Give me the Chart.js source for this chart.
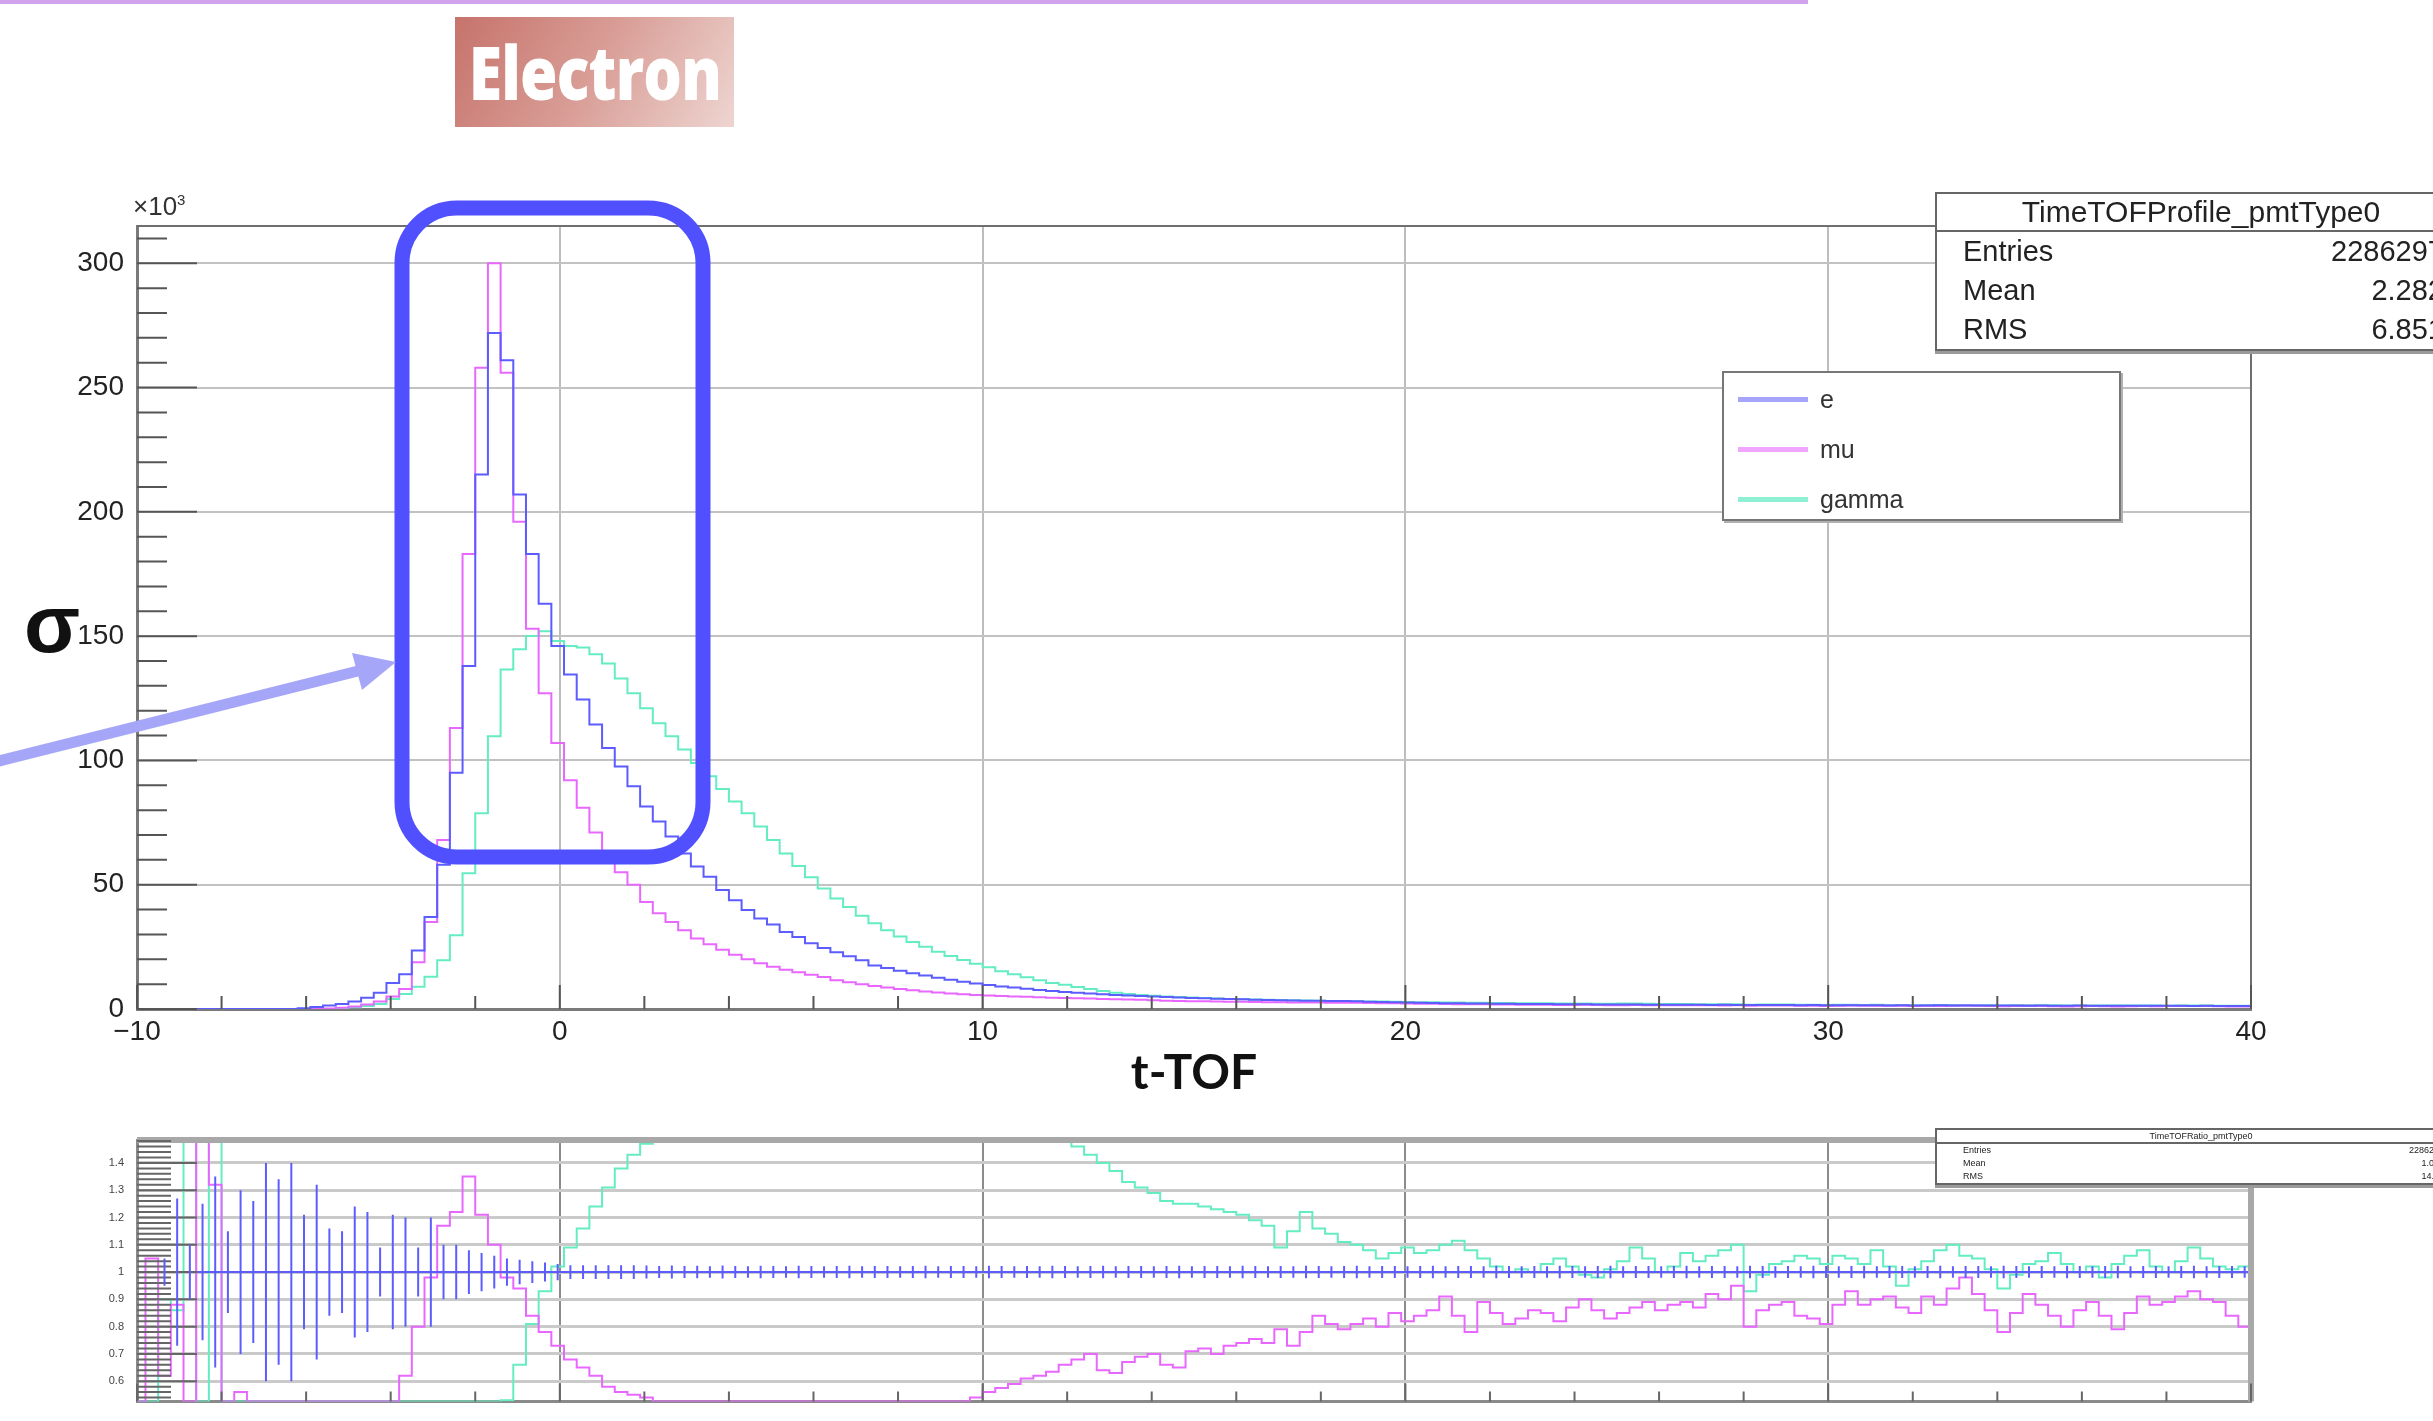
<!DOCTYPE html>
<html>
<head>
<meta charset="utf-8">
<title>TimeTOFProfile_pmtType0</title>
<script src="https://cdn.jsdelivr.net/npm/chart.js@4.4.1/dist/chart.umd.min.js"></script>
<style>
  html, body { margin: 0; padding: 0; background: #fff; }
  body { width: 2433px; height: 1421px; position: relative; overflow: hidden;
         font-family: "Liberation Sans", Arial, sans-serif; color: #222; }
  canvas { position: absolute; left: 0; }
  #mainChart { top: 0; }
  #ratioChart { top: 1110px; }
  #topRule { position: absolute; left: 0; top: 0; width: 1808px; height: 4px; background: #d2a2ec; }
  #badge { position: absolute; left: 455px; top: 17px; width: 279px; height: 110px;
           background: linear-gradient(120deg, #c6736b 0%, #d99e97 50%, #eed5d1 100%);
           display: flex; align-items: center; justify-content: center; overflow: hidden; }
  #badge span { color: #fff; font-family: "Open Sans", sans-serif; font-weight: 800; font-size: 74px;
                line-height: 1; display: inline-block; transform: scaleX(0.82); letter-spacing: -1px; }
  #sigma { position: absolute; left: 24px; top: 583px; font-size: 82px; font-weight: bold; line-height: 1; color: #111; }
  #expo { position: absolute; left: 133px; top: 191px; font-size: 26px; color: #333; }
  #expo sup { font-size: 15px; }
  .stats { position: absolute; background: #fff; border: 2px solid #666; box-shadow: 0 3px 0 #9a9a9a; }
  .stats .head { text-align: center; border-bottom: 2px solid #666; }
  .stats .row { display: flex; justify-content: space-between; }
  #stats { left: 1935px; top: 192px; width: 528px; font-size: 29px; }
  #stats .head { height: 36px; line-height: 36px; font-size: 30px; }
  #stats .row { height: 39px; line-height: 39px; padding: 0 21px 0 26px; }
  #ratioStats { left: 1935px; top: 1128px; width: 528px; font-size: 9px; }
  #ratioStats .head { height: 12px; line-height: 12px; }
  #ratioStats .row { height: 13px; line-height: 13px; padding: 0 21px 0 26px; }
  #legend { position: absolute; left: 1722px; top: 371px; width: 395px; height: 145px; background: #fff;
            border: 2px solid #777; box-shadow: 2px 2px 0 #b0b0b0; padding-top: 1px; }
  #legend .item { height: 50px; display: flex; align-items: center; font-size: 25px; color: #333; }
  #legend .swatch { width: 70px; height: 5px; margin: 0 12px 0 14px; }
  #marks { position: absolute; left: 0; top: 0; }
</style>
</head>
<body>
<canvas id="mainChart" width="2433" height="1110"></canvas>
<canvas id="ratioChart" width="2433" height="311"></canvas>

<div id="topRule"></div>
<div id="badge"><span>Electron</span></div>
<div id="sigma">σ</div>
<div id="expo">×10<sup>3</sup></div>
<div id="legend"></div>
<div id="stats" class="stats"></div>
<div id="ratioStats" class="stats"></div>

<svg id="marks" width="2433" height="1421">
  <rect x="402" y="208" width="301" height="649" rx="55" ry="55" fill="none" stroke="#5050ff" stroke-width="15"/>
  <line x1="-5" y1="762" x2="358" y2="671" stroke="#a6a6f8" stroke-width="11"/>
  <polygon points="396,662 352,653 362,690" fill="#a6a6f8"/>
</svg>

<script>
// bins of the t-TOF histograms (ns)
const binStart = -10.1;
const binWidth = 0.3;

const tofTicks = [-10, 0, 10, 20, 30, 40];
const countTicks = [0, 50, 100, 150, 200, 250, 300];
const ratioTicks = [0.6, 0.7, 0.8, 0.9, 1, 1.1, 1.2, 1.3, 1.4];

const seriesNames = ["e", "mu", "gamma"];

// entries per bin, x10^3
const eCounts = [
  0, 0, 0, 0, 0, 0, 0, 0, 0, 0,
  0, 0, 0, 0.3, 0.8, 1.4, 2, 3, 4.5, 6.5,
  10.5, 14, 23.5, 37, 58, 95, 138, 215, 272, 261,
  207, 183, 163, 146, 134.6, 124.5, 114.5, 105, 97.6, 89.6,
  81.5, 75.4, 69.4, 62.6, 57.3, 53.2, 47.9, 43.8, 39.8, 36.4,
  34, 31, 29, 26.5, 24.5, 22.8, 21.2, 19.6, 17.5, 16.5,
  15.4, 14.4, 13.5, 12.6, 11.8, 11.0, 10.3, 9.7, 9.1, 8.6,
  8.1, 7.6, 7.2, 6.8, 6.5, 6.2, 5.9, 5.6, 5.4, 5.2,
  5.0, 4.8, 4.6, 4.4, 4.3, 4.1, 4.0, 3.9, 3.7, 3.6,
  3.5, 3.4, 3.3, 3.3, 3.2, 3.2, 3.1, 2.9, 2.8, 2.7,
  2.6, 2.5, 2.4, 2.3, 2.3, 2.2, 2.2, 2.1, 2.1, 2.0,
  2.0, 2.0, 1.9, 1.9, 1.9, 1.8, 1.8, 1.8, 1.8, 1.7,
  1.7, 1.7, 1.7, 1.7, 1.6, 1.7, 1.6, 1.6, 1.6, 1.6,
  1.6, 1.5, 1.6, 1.5, 1.5, 1.5, 1.5, 1.5, 1.4, 1.5,
  1.4, 1.4, 1.5, 1.4, 1.4, 1.4, 1.4, 1.4, 1.4, 1.3,
  1.4, 1.3, 1.3, 1.4, 1.3, 1.3, 1.3, 1.3, 1.3, 1.3,
  1.3, 1.3, 1.2, 1.3, 1.2, 1.2, 1.2
];
const muCounts = [
  0, 0, 0, 0, 0, 0, 0, 0, 0, 0,
  0, 0, 0, 0, 0, 0.2, 0.5, 1.0, 1.8, 3,
  5, 8, 18.8, 35, 68, 113, 183, 258, 300, 256,
  196, 153, 127, 107, 92, 81, 71, 60, 55, 50,
  43, 38.5, 35, 31.7, 28.4, 26, 23.8, 21.8, 20, 18.4,
  17, 15.8, 14.8, 13.8, 12.9, 11.6, 10.8, 10.0, 9.3, 8.6,
  8.0, 7.5, 7.0, 6.6, 6.2, 5.9, 5.6, 5.4, 5.2, 5.0,
  4.9, 4.7, 4.55, 4.4, 4.3, 4.2, 4.0, 3.9, 3.8, 3.7,
  3.5, 3.3, 3.2, 3.1, 3.1, 3.0, 2.9, 2.9, 2.8, 2.7,
  2.7, 2.6, 2.6, 2.6, 2.5, 2.5, 2.5, 2.4, 2.3, 2.3,
  2.2, 2.1, 2.1, 2.0, 1.9, 1.9, 1.9, 1.8, 1.8, 1.7,
  1.7, 1.7, 1.6, 1.6, 1.7, 1.6, 1.5, 1.5, 1.6, 1.5,
  1.5, 1.5, 1.5, 1.5, 1.5, 1.4, 1.5, 1.3, 1.4, 1.4,
  1.4, 1.3, 1.3, 1.2, 1.3, 1.4, 1.3, 1.3, 1.3, 1.3,
  1.2, 1.3, 1.2, 1.3, 1.4, 1.3, 1.2, 1.1, 1.2, 1.3,
  1.2, 1.1, 1.0, 1.1, 1.2, 1.1, 1.0, 1.1, 1.2, 1.1,
  1.2, 1.2, 1.2, 1.2, 1.1, 1.0, 1.0
];
const gammaCounts = [
  0, 0, 0, 0, 0, 0, 0, 0, 0, 0,
  0, 0, 0, 0, 0, 0, 0.3, 0.7, 1.2, 2,
  4, 6, 9, 13, 19.6, 29.7, 54.6, 78.8, 109.7, 136.6,
  144.7, 150.1, 152, 148, 146, 145.4, 142.7, 139, 133, 127,
  121, 115, 109.7, 104.4, 99, 93.6, 88.5, 83.5, 78.8, 73.4,
  68, 62.6, 57.5, 53, 48.5, 44.5, 41, 37.5, 34.5, 31.7,
  29.2, 27, 25, 23, 21.3, 19.7, 18.2, 16.8, 15.2, 14.0,
  12.8, 11.6, 10.5, 9.8, 8.9, 8.0, 7.2, 6.5, 6.0, 5.6,
  5.3, 5.0, 4.8, 4.6, 4.4, 4.2, 4.0, 3.9, 3.8, 3.7,
  3.6, 3.5, 3.4, 3.3, 3.25, 3.2, 3.1, 3.05, 3.0, 2.9,
  2.8, 2.7, 2.7, 2.6, 2.6, 2.5, 2.5, 2.4, 2.4, 2.3,
  2.3, 2.3, 2.2, 2.2, 2.2, 2.1, 2.1, 2.2, 2.2, 2.1,
  2.0, 2.0, 2.0, 1.9, 1.9, 1.9, 1.9, 1.7, 1.8, 1.8,
  1.8, 1.7, 1.7, 1.6, 1.7, 1.7, 1.6, 1.7, 1.6, 1.5,
  1.5, 1.6, 1.6, 1.6, 1.5, 1.5, 1.5, 1.4, 1.5, 1.5,
  1.5, 1.5, 1.4, 1.4, 1.4, 1.4, 1.4, 1.4, 1.4, 1.4,
  1.3, 1.4, 1.4, 1.4, 1.3, 1.3, 1.3
];

// ratio to e, bin by bin (values past the frame sit on its edge)
const eRatio = [
  1, 1, 1, 1, 1, 1, 1, 1, 1, 1,  1, 1, 1, 1, 1, 1, 1, 1, 1, 1,
  1, 1, 1, 1, 1, 1, 1, 1, 1, 1,  1, 1, 1, 1, 1, 1, 1, 1, 1, 1,
  1, 1, 1, 1, 1, 1, 1, 1, 1, 1,  1, 1, 1, 1, 1, 1, 1, 1, 1, 1,
  1, 1, 1, 1, 1, 1, 1, 1, 1, 1,  1, 1, 1, 1, 1, 1, 1, 1, 1, 1,
  1, 1, 1, 1, 1, 1, 1, 1, 1, 1,  1, 1, 1, 1, 1, 1, 1, 1, 1, 1,
  1, 1, 1, 1, 1, 1, 1, 1, 1, 1,  1, 1, 1, 1, 1, 1, 1, 1, 1, 1,
  1, 1, 1, 1, 1, 1, 1, 1, 1, 1,  1, 1, 1, 1, 1, 1, 1, 1, 1, 1,
  1, 1, 1, 1, 1, 1, 1, 1, 1, 1,  1, 1, 1, 1, 1, 1, 1, 1, 1, 1,
  1, 1, 1, 1, 1, 1, 1
];
const eRatioErr = [
  0, 0, 0.05, 0.27, 0.1, 0.25, 0.35, 0.15, 0.3, 0.26,
  0.40, 0.34, 0.40, 0.21, 0.32, 0.16, 0.15, 0.24, 0.22, 0.09,
  0.21, 0.2, 0.09, 0.2, 0.1, 0.1, 0.08, 0.07, 0.06, 0.05,
  0.045, 0.04, 0.035, 0.03, 0.025, 0.025, 0.025, 0.025, 0.025, 0.025,
  0.024, 0.022, 0.024, 0.022, 0.023, 0.021, 0.024, 0.022, 0.021, 0.023,
  0.022, 0.021, 0.023, 0.022, 0.021, 0.022, 0.023, 0.021, 0.022, 0.022,
  0.021, 0.022, 0.023, 0.021, 0.022, 0.022, 0.021, 0.023, 0.022, 0.021,
  0.022, 0.021, 0.023, 0.022, 0.021, 0.022, 0.023, 0.021, 0.022, 0.022,
  0.021, 0.022, 0.023, 0.021, 0.022, 0.022, 0.021, 0.023, 0.022, 0.021,
  0.022, 0.021, 0.023, 0.022, 0.021, 0.022, 0.023, 0.021, 0.022, 0.022,
  0.021, 0.022, 0.023, 0.021, 0.022, 0.022, 0.021, 0.023, 0.022, 0.021,
  0.022, 0.021, 0.023, 0.022, 0.021, 0.022, 0.023, 0.021, 0.022, 0.022,
  0.021, 0.022, 0.023, 0.021, 0.022, 0.022, 0.021, 0.023, 0.022, 0.021,
  0.022, 0.021, 0.023, 0.022, 0.021, 0.022, 0.023, 0.021, 0.022, 0.022,
  0.021, 0.022, 0.023, 0.021, 0.022, 0.022, 0.021, 0.023, 0.022, 0.021,
  0.022, 0.021, 0.023, 0.022, 0.021, 0.022, 0.023, 0.021, 0.022, 0.022,
  0.021, 0.022, 0.023, 0.021, 0.022, 0.022, 0.021
];
const muRatio = [
  0.526, 1.05, 0.62, 0.88, 0.526, 1.6, 1.32, 0.526, 0.56, 0.526,
  0.526, 0.526, 0.526, 0.526, 0.526, 0.526, 0.526, 0.526, 0.526, 0.526,
  0.526, 0.62, 0.80, 0.98, 1.17, 1.22, 1.35, 1.21, 1.10, 0.98,
  0.94, 0.84, 0.78, 0.73, 0.68, 0.65, 0.62, 0.58, 0.56, 0.55,
  0.54, 0.526, 0.526, 0.526, 0.526, 0.526, 0.526, 0.526, 0.526, 0.526,
  0.526, 0.526, 0.526, 0.526, 0.526, 0.526, 0.526, 0.526, 0.526, 0.526,
  0.526, 0.526, 0.526, 0.526, 0.526, 0.526, 0.54, 0.56, 0.575, 0.59,
  0.61, 0.62, 0.635, 0.66, 0.68, 0.70, 0.64, 0.63, 0.67, 0.69,
  0.70, 0.66, 0.65, 0.71, 0.72, 0.70, 0.73, 0.74, 0.755, 0.74,
  0.79, 0.73, 0.78, 0.84, 0.81, 0.79, 0.81, 0.83, 0.80, 0.85,
  0.82, 0.84, 0.86, 0.91, 0.84, 0.78, 0.89, 0.85, 0.81, 0.83,
  0.86, 0.85, 0.82, 0.87, 0.90, 0.86, 0.83, 0.85, 0.87, 0.89,
  0.86, 0.88, 0.89, 0.87, 0.92, 0.90, 0.95, 0.80, 0.86, 0.88,
  0.89, 0.84, 0.83, 0.81, 0.88, 0.93, 0.88, 0.90, 0.91, 0.87,
  0.85, 0.91, 0.88, 0.94, 0.98, 0.92, 0.86, 0.78, 0.85, 0.92,
  0.88, 0.84, 0.80, 0.86, 0.89, 0.84, 0.79, 0.85, 0.91, 0.88,
  0.89, 0.91, 0.93, 0.90, 0.89, 0.84, 0.80
];
const gammaRatio = [
  0.526, 0.526, 0.9, 0.86, 1.6, 0.526, 1.6, 0.526, 0.526, 0.526,
  0.526, 0.526, 0.526, 0.526, 0.526, 0.526, 0.526, 0.526, 0.526, 0.526,
  0.526, 0.526, 0.526, 0.526, 0.526, 0.526, 0.526, 0.526, 0.526, 0.53,
  0.66, 0.81, 0.93, 1.02, 1.09, 1.16, 1.24, 1.31, 1.38, 1.43,
  1.47, 1.6, 1.6, 1.6, 1.6, 1.6, 1.6, 1.6, 1.6, 1.6,
  1.6, 1.6, 1.6, 1.6, 1.6, 1.6, 1.6, 1.6, 1.6, 1.6,
  1.6, 1.6, 1.6, 1.6, 1.6, 1.6, 1.6, 1.6, 1.6, 1.6,
  1.6, 1.6, 1.6, 1.6, 1.46, 1.43, 1.40, 1.37, 1.33, 1.31,
  1.29, 1.26, 1.25, 1.25, 1.24, 1.23, 1.22, 1.21, 1.19, 1.17,
  1.09, 1.15, 1.22, 1.16, 1.14, 1.11, 1.10, 1.08, 1.05, 1.07,
  1.09, 1.07, 1.08, 1.10, 1.115, 1.08, 1.05, 1.02, 1.00, 1.01,
  1.00, 1.03, 1.05, 1.02, 0.99, 0.98, 1.01, 1.04, 1.09, 1.05,
  1.00, 1.02, 1.07, 1.04, 1.06, 1.08, 1.10, 0.93, 0.99, 1.03,
  1.04, 1.06, 1.05, 1.03, 1.06, 1.05, 1.03, 1.08, 1.02, 0.95,
  1.01, 1.04, 1.08, 1.10, 1.06, 1.05, 1.01, 0.94, 0.99, 1.03,
  1.04, 1.07, 1.03, 1.00, 1.02, 0.98, 1.03, 1.06, 1.08, 1.02,
  1.00, 1.04, 1.09, 1.05, 1.02, 1.01, 1.02
];

const statNames = ["Entries", "Mean", "RMS"];
const statValues = ["2286297", "2.282", "6.851"];
const ratioStatValues = ["2286297", "1.003", "14.52"];

const lineColors = { e: "rgb(92,92,255)", mu: "rgb(232,104,255)", gamma: "rgb(100,236,194)" };
const swatchColors = { e: "#a5a5ff", mu: "#f0a6ff", gamma: "#8ff0d4" };

// step outline: each bin starts at its left edge, one more point closes the last bin
function histPoints(values) {
  const pts = values.map((v, i) => ({ x: binStart + i * binWidth, y: v }));
  pts.push({ x: binStart + values.length * binWidth, y: values[values.length - 1] });
  return pts;
}

function histDataset(name, values, width) {
  return {
    label: name,
    data: histPoints(values),
    values: values,
    borderColor: lineColors[name],
    swatch: swatchColors[name],
    borderWidth: width,
    stepped: true,
    pointRadius: 0,
    fill: false,
  };
}

// ROOT-like frame: closing top/right lines plus inward tick marks
const rootFrame = {
  id: "rootFrame",
  afterDatasetsDraw(chart, args, o) {
    const { ctx, chartArea: a, scales: { x, y } } = chart;
    ctx.save();
    ctx.strokeStyle = o.frameColor;
    ctx.lineWidth = o.frameWidth;
    ctx.beginPath();
    ctx.moveTo(a.left, a.top);
    ctx.lineTo(a.right, a.top);
    ctx.lineTo(a.right, a.bottom);
    ctx.stroke();

    ctx.strokeStyle = o.tickColor;
    ctx.lineWidth = 2;
    ctx.beginPath();
    const nx = Math.round((x.max - x.min) / o.xMinor);
    for (let i = 0; i <= nx; i++) {
      const v = x.min + i * o.xMinor;
      const major = Math.abs(v / o.xMajor - Math.round(v / o.xMajor)) < 1e-6;
      const px = x.getPixelForValue(v);
      ctx.moveTo(px, a.bottom);
      ctx.lineTo(px, a.bottom - (major ? o.xMajorLen : o.xMinorLen));
    }
    const ny = Math.floor((y.max - o.yFrom) / o.yMinor + 1e-6);
    for (let i = 0; i <= ny; i++) {
      const v = o.yFrom + i * o.yMinor;
      const major = Math.abs(v / o.yMajor - Math.round(v / o.yMajor)) < 1e-6;
      const py = y.getPixelForValue(v);
      if (py < a.top - 0.5 || py > a.bottom + 0.5) continue;
      ctx.moveTo(a.left, py);
      ctx.lineTo(a.left + (major ? o.yMajorLen : o.yMinorLen), py);
    }
    ctx.stroke();
    ctx.restore();
  }
};

// vertical error bars at bin centres for datasets that carry errors
const errorBars = {
  id: "errorBars",
  afterDatasetsDraw(chart) {
    const { ctx, chartArea: a, scales: { x, y } } = chart;
    ctx.save();
    ctx.beginPath();
    ctx.rect(a.left, a.top, a.width, a.height);
    ctx.clip();
    chart.data.datasets.forEach(ds => {
      if (!ds.errors) return;
      ctx.strokeStyle = ds.borderColor;
      ctx.lineWidth = 2;
      ctx.beginPath();
      ds.errors.forEach((err, i) => {
        if (!err) return;
        const px = x.getPixelForValue(binStart + (i + 0.5) * binWidth);
        ctx.moveTo(px, y.getPixelForValue(ds.values[i] - err));
        ctx.lineTo(px, y.getPixelForValue(ds.values[i] + err));
      });
      ctx.stroke();
    });
    ctx.restore();
  }
};

const tickFont = { family: "Liberation Sans", size: 28 };
const tofLabel = v => (v < 0 ? "\u2212" + Math.abs(v) : String(v));

const mainChart = new Chart(document.getElementById("mainChart"), {
  type: "line",
  data: {
    datasets: [
      histDataset(seriesNames[0], eCounts, 2),
      histDataset(seriesNames[1], muCounts, 2),
      histDataset(seriesNames[2], gammaCounts, 2),
    ],
  },
  options: {
    responsive: false,
    animation: false,
    events: [],
    layout: { padding: { left: 0, top: 226, right: 182, bottom: 0 } },
    plugins: {
      legend: { display: false },
      tooltip: { enabled: false },
      rootFrame: {
        frameColor: "#6f6f6f", frameWidth: 2, tickColor: "#555",
        xMinor: 2, xMajor: 10, xMinorLen: 13, xMajorLen: 24,
        yFrom: 0, yMinor: 10, yMajor: 50, yMinorLen: 30, yMajorLen: 60,
      },
    },
    scales: {
      x: {
        type: "linear", min: -10, max: 40,
        afterFit: s => { s.height = 101; },
        afterBuildTicks: s => { s.ticks = tofTicks.map(v => ({ value: v })); },
        ticks: { font: tickFont, color: "#222", padding: 6, maxRotation: 0, autoSkip: false, callback: tofLabel },
        grid: { color: "#bdbdbd", lineWidth: 2, drawTicks: false },
        border: { color: "#7a7a7a", width: 3 },
        title: {
          display: true, text: "t-TOF", color: "#111",
          font: { family: "Lato", size: 48, weight: "bold" },
          padding: { top: 0, bottom: 8 },
        },
      },
      y: {
        type: "linear", min: 0, max: 315,
        afterFit: s => { s.width = 137; },
        afterBuildTicks: s => { s.ticks = countTicks.map(v => ({ value: v })); },
        ticks: { font: tickFont, color: "#222", padding: 13 },
        grid: { color: "#c2c2c2", lineWidth: 2, drawTicks: false },
        border: { color: "#7a7a7a", width: 3 },
      },
    },
  },
  plugins: [rootFrame],
});

// lower pad: each species divided by e
const ratioSets = [
  histDataset(seriesNames[0], eRatio, 2),
  histDataset(seriesNames[1], muRatio, 2),
  histDataset(seriesNames[2], gammaRatio, 2),
];
ratioSets[0].errors = eRatioErr;

new Chart(document.getElementById("ratioChart"), {
  type: "line",
  data: { datasets: ratioSets },
  options: {
    responsive: false,
    animation: false,
    events: [],
    layout: { padding: { left: 0, top: 30, right: 182, bottom: 0 } },
    plugins: {
      legend: { display: false },
      tooltip: { enabled: false },
      rootFrame: {
        frameColor: "#a8a8a8", frameWidth: 6, tickColor: "#666",
        xMinor: 2, xMajor: 10, xMinorLen: 10, xMajorLen: 18,
        yFrom: 0.54, yMinor: 0.02, yMajor: 0.1, yMinorLen: 34, yMajorLen: 60,
      },
    },
    scales: {
      x: {
        type: "linear", min: -10, max: 40,
        afterFit: s => { s.height = 4; },
        afterBuildTicks: s => { s.ticks = tofTicks.map(v => ({ value: v })); },
        ticks: { display: false },
        grid: { color: "#8c8c8c", lineWidth: 2, drawTicks: false },
        border: { color: "#8a8a8a", width: 3 },
      },
      y: {
        type: "linear", min: 0.526, max: 1.484,
        afterFit: s => { s.width = 137; },
        afterBuildTicks: s => { s.ticks = ratioTicks.map(v => ({ value: v })); },
        ticks: {
          font: { family: "Liberation Sans", size: 11 }, color: "#444", padding: 13,
          callback: v => (v === 1 ? "1" : v.toFixed(1)),
        },
        grid: { color: "#cacaca", lineWidth: 3, drawTicks: false },
        border: { color: "#8a8a8a", width: 3 },
      },
    },
  },
  plugins: [rootFrame, errorBars],
});

// legend box built from the main chart's datasets
const legendBox = document.getElementById("legend");
mainChart.data.datasets.forEach(ds => {
  const item = document.createElement("div");
  item.className = "item";
  const sw = document.createElement("span");
  sw.className = "swatch";
  sw.style.background = ds.swatch;
  const txt = document.createElement("span");
  txt.textContent = ds.label;
  item.appendChild(sw);
  item.appendChild(txt);
  legendBox.appendChild(item);
});

function fillStats(box, title, values) {
  const head = document.createElement("div");
  head.className = "head";
  head.textContent = title;
  box.appendChild(head);
  statNames.forEach((name, i) => {
    const row = document.createElement("div");
    row.className = "row";
    const a = document.createElement("span");
    a.textContent = name;
    const b = document.createElement("span");
    b.textContent = values[i];
    row.appendChild(a);
    row.appendChild(b);
    box.appendChild(row);
  });
}
fillStats(document.getElementById("stats"), "TimeTOFProfile_pmtType0", statValues);
fillStats(document.getElementById("ratioStats"), "TimeTOFRatio_pmtType0", ratioStatValues);
</script>
</body>
</html>
